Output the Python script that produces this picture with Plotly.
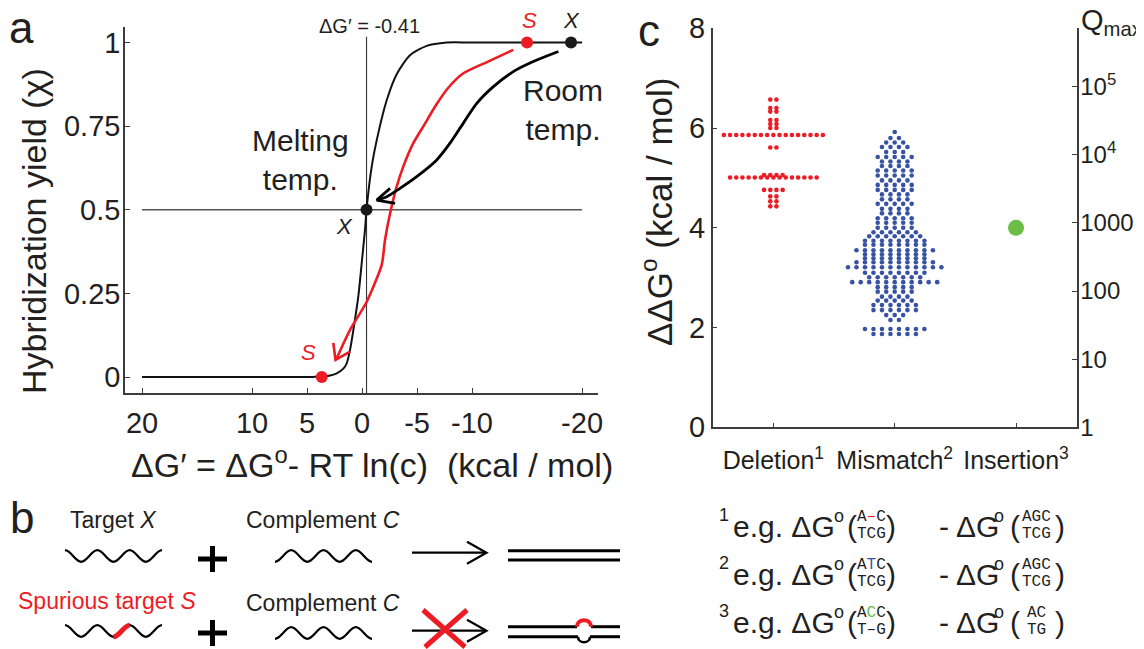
import plotly.graph_objects as go

W, H = 1144, 649          # target picture size
OX, OY = 8, 8             # page body margin of the browser
FW, FH = W - OX, H - OY   # figure size so the page fits the window exactly
FONT = "Liberation Sans, Arial, Helvetica, sans-serif"
MONO = "Liberation Mono, Courier New, monospace"
RED = "#ED1C24"
BLUE = "#3953A4"
GREEN = "#6ABD45"
INK = "#231F20"
AXC = "#3C3C3C"

# ---------------- Panel a data ----------------
xa_tickvals = [20, 10, 5, 0, -5, -10, -20]
xa_ticktext = ["20", "10", "5", "0", "-5", "-10", "-20"]
ya_tickvals = [0, 0.25, 0.5, 0.75, 1]
ya_ticktext = ["0", "0.25", "0.5", "0.75", "1"]

curve_dG = [20, 10, 5, 4.3, 3.66, 3.0, 2.3, 1.7, 1.39, 1.09, 0.79, 0.34, 0.03, -0.27, -0.41,
            -0.88, -1.48, -2.25, -3.15, -4.36, -5.88, -7.7, -10, -20]
curve_chi = [0, 0, 0, 0.0005, 0.001, 0.004, 0.011, 0.025, 0.041, 0.081, 0.14, 0.24, 0.34, 0.44, 0.5,
             0.629, 0.729, 0.828, 0.905, 0.962, 0.99, 1.0, 1.0, 1.0]

dG_melt = -0.41
half_line_dG = [20, -20]
half_line_chi = [0.5, 0.5]
vline_chi = [-0.048, 1.017]

x_dots_dG = [-0.41, -19.0]
x_dots_chi = [0.5, 1.0]
s_dots_dG = [3.66, -15.0]
s_dots_chi = [0.0, 1.0]

red_path_dG = [-13.75, -11.45, -9.21, -7.82, -6.73, -5.64, -4.66, -3.75, -3.15, -2.55,
               -2.09, -1.79, -0.43, 1.09, 2.30]
red_path_chi = [0.978, 0.943, 0.908, 0.864, 0.813, 0.753, 0.699, 0.629, 0.569, 0.489,
                0.410, 0.335, 0.225, 0.141, 0.056]
red_head_dG = [2.61, 2.41, 1.09]
red_head_chi = [0.102, 0.051, 0.076]

blk_path_dG = [-17.85, -15.57, -13.75, -11.94, -10.43, -9.21, -8.0, -6.79, -4.97, -3.45, -2.25, -1.34]
blk_path_chi = [0.973, 0.943, 0.913, 0.868, 0.818, 0.759, 0.699, 0.649, 0.599, 0.564, 0.539, 0.529]
blk_head_dG = [-2.55, -1.34, -3.0]
blk_head_chi = [0.564, 0.529, 0.519]

# ---------------- Panel c data ----------------
cat_pos = [1, 2, 3]
cat_text = ["Deletion<sup>1</sup>", "Mismatch<sup>2</sup>", "Insertion<sup>3</sup>"]
yc_tickvals = [0, 2, 4, 6, 8]
q_tickvals = [1, 10, 100, 1000, 1e4, 1e5]
q_ticktext = ["1", "10", "100", "1000", "10<sup>4</sup>", "10<sup>5</sup>"]

del_levels = [6.57, 6.40, 6.33, 6.16, 6.08, 6.00, 5.86, 5.61, 5.06, 5.01, 4.76, 4.63, 4.53, 4.43]
del_counts = [2, 2, 2, 2, 2, 2, 17, 2, 4, 15, 4, 2, 2, 2]

mis_levels = [5.92, 5.80, 5.71, 5.62, 5.52, 5.42, 5.33, 5.24, 5.15, 5.05, 4.95, 4.86, 4.76, 4.67,
              4.57, 4.48, 4.38, 4.29, 4.19, 4.10, 4.00, 3.91, 3.83, 3.74, 3.66, 3.55, 3.47, 3.39,
              3.31, 3.21, 3.10, 3.01, 2.91, 2.81, 2.72, 2.62, 2.54, 2.45, 2.35, 2.25, 2.15, 1.97, 1.87]
mis_counts = [1, 2, 3, 4, 3, 5, 4, 4, 5, 5, 4, 5, 5, 4,
              4, 5, 4, 4, 5, 5, 5, 6, 7, 8, 8, 10, 8, 8,
              10, 12, 8, 7, 11, 5, 5, 4, 5, 6, 6, 3, 2, 8, 6]

ins_levels = [4.0]
ins_counts = [1]


def swarm(levels, counts, center, step):
    xs, ys = [], []
    for v, n in zip(levels, counts):
        for i in range(n):
            xs.append(center + (i - (n - 1) / 2) * step)
            ys.append(v)
    return xs, ys


def xp(x):
    return (x - OX) / FW


def yp(y):
    return 1 - (y - OY) / FH


fig = go.Figure()

# ---- panel a traces ----
fig.add_trace(go.Scatter(x=half_line_dG, y=half_line_chi, mode="lines",
                         line=dict(color="#555555", width=1.3), xaxis="x", yaxis="y", hoverinfo="skip"))
fig.add_trace(go.Scatter(x=[dG_melt, dG_melt], y=vline_chi, mode="lines",
                         line=dict(color="#333333", width=1.1), xaxis="x", yaxis="y", hoverinfo="skip"))
fig.add_trace(go.Scatter(x=curve_dG, y=curve_chi, mode="lines",
                         line=dict(color="#111111", width=2, shape="spline", smoothing=0.7),
                         xaxis="x", yaxis="y"))
fig.add_trace(go.Scatter(x=red_path_dG, y=red_path_chi, mode="lines",
                         line=dict(color=RED, width=2.6, shape="spline", smoothing=0.6), xaxis="x", yaxis="y"))
fig.add_trace(go.Scatter(x=red_head_dG, y=red_head_chi, mode="lines",
                         line=dict(color=RED, width=2.6), xaxis="x", yaxis="y"))
fig.add_trace(go.Scatter(x=blk_path_dG, y=blk_path_chi, mode="lines",
                         line=dict(color="#000000", width=2.8, shape="spline", smoothing=0.8), xaxis="x", yaxis="y"))
fig.add_trace(go.Scatter(x=blk_head_dG, y=blk_head_chi, mode="lines",
                         line=dict(color="#000000", width=2.8), xaxis="x", yaxis="y"))
fig.add_trace(go.Scatter(x=x_dots_dG, y=x_dots_chi, mode="markers",
                         marker=dict(color="#1A1A1A", size=12), xaxis="x", yaxis="y"))
fig.add_trace(go.Scatter(x=s_dots_dG, y=s_dots_chi, mode="markers",
                         marker=dict(color=RED, size=12), xaxis="x", yaxis="y"))

# ---- panel c traces ----
dx, dy = swarm(del_levels, del_counts, cat_pos[0], 0.051)
fig.add_trace(go.Scatter(x=dx, y=dy, mode="markers", marker=dict(color=RED, size=4.6),
                         xaxis="x2", yaxis="y2"))
mx, my = swarm(mis_levels, mis_counts, cat_pos[1], 0.07)
fig.add_trace(go.Scatter(x=mx, y=my, mode="markers", marker=dict(color=BLUE, size=4.6),
                         xaxis="x2", yaxis="y2"))
ix, iy = swarm(ins_levels, ins_counts, cat_pos[2], 0.051)
fig.add_trace(go.Scatter(x=ix, y=iy, mode="markers", marker=dict(color=GREEN, size=16),
                         xaxis="x2", yaxis="y2"))
fig.add_trace(go.Scatter(x=[], y=[], xaxis="x2", yaxis="y3", mode="markers"))
fig.add_trace(go.Scatter(x=[], y=[], xaxis="x4", yaxis="y4", mode="markers"))


def ann(text, x, y, size, color=INK, xanchor="center", yanchor="middle", family=FONT, angle=0):
    return dict(text=text, x=xp(x), y=yp(y), xref="paper", yref="paper", showarrow=False,
                font=dict(size=size, color=color, family=family), xanchor=xanchor,
                yanchor=yanchor, textangle=angle, borderpad=0)


anns = []
# panel labels
anns.append(ann("a", 22, 28, 44))
anns.append(ann("b", 22, 517, 44))
anns.append(ann("c", 649, 31, 44))
# panel a texts
anns.append(ann("Hybridization yield (\u03c7)", 34, 231, 34, angle=-90))
anns.append(ann("\u0394G\u2032 = \u0394G<sup>o</sup>- RT ln(c)  (kcal / mol)", 372, 462, 34))
anns.append(ann("\u0394G\u2032 = -0.41", 369, 26, 20))
anns.append(ann("Melting<br>temp.", 300, 160, 30))
anns.append(ann("Room<br>temp.", 563, 110, 30))
anns.append(ann("<i>X</i>", 344, 226, 22))
anns.append(ann("<i>S</i>", 529, 20, 22, color=RED))
anns.append(ann("<i>X</i>", 571, 20, 22))
anns.append(ann("<i>S</i>", 308, 352, 22, color=RED))
# panel c texts
anns.append(ann("\u0394\u0394G<sup>o</sup> (kcal / mol)", 657, 212, 35, angle=-90))
anns.append(ann("Q<sub>max</sub>", 1143, 22, 29, xanchor="right"))
# panel b texts
anns.append(ann("Target <i>X</i>", 113, 520, 23))
anns.append(ann("Complement <i>C</i>", 323, 520, 23))
anns.append(ann("Spurious target <i>S</i>", 107, 601, 23, color=RED))
anns.append(ann("Complement <i>C</i>", 323, 603, 23))

# equations
eq_rows = [
    (526, "1", ("A<span style='color:%s'>\u2013</span>C" % RED, "TCG"), ("AGC", "TCG")),
    (574, "2", ("A<span style='color:%s'>T</span>C" % BLUE, "TCG"), ("AGC", "TCG")),
    (622, "3", ("A<span style='color:%s'>C</span>C" % GREEN, "T\u2013G"), ("AC", "TG")),
]
for yc, num, st1, st2 in eq_rows:
    anns.append(ann(num, 718, yc - 11, 18, xanchor="left"))
    anns.append(ann("e.g. \u0394G", 732, yc, 30, xanchor="left"))
    anns.append(ann("o", 833, yc - 10, 18, xanchor="left"))
    anns.append(ann("(", 846, yc, 30, xanchor="left"))
    anns.append(ann(st1[0], 871, yc - 9, 16, family=MONO))
    anns.append(ann(st1[1], 871, yc + 8, 16, family=MONO))
    anns.append(ann(")", 885, yc, 30, xanchor="left"))
    anns.append(ann("-", 938, yc, 30, xanchor="left"))
    anns.append(ann("\u0394G", 955, yc, 30, xanchor="left"))
    anns.append(ann("o", 993, yc - 10, 18, xanchor="left"))
    anns.append(ann("(", 1009, yc, 30, xanchor="left"))
    anns.append(ann(st2[0], 1036, yc - 9, 16, family=MONO))
    anns.append(ann(st2[1], 1036, yc + 8, 16, family=MONO))
    anns.append(ann(")", 1054, yc, 30, xanchor="left"))


# ---------------- panel b shapes (pixel canvas x4/y4) ----------------
def wave(x0, x1, yc, amp, nhalf, first_up=True, k0=0, k1=None):
    h = (x1 - x0) / nhalf
    k1 = nhalf if k1 is None else k1
    y = yc - amp if first_up else yc + amp
    if k0 % 2 == 1:
        y = 2 * yc - y
    p = f"M{x0 + k0 * h},{y}"
    for k in range(k0, k1):
        xs = x0 + k * h
        yn = 2 * yc - y
        p += f" C{xs + 0.36 * h},{y} {xs + 0.64 * h},{yn} {xs + h},{yn}"
        y = yn
    return p


shapes = []


def pshape(path, color="#000000", width=2.2):
    shapes.append(dict(type="path", path=path, xref="x4", yref="y4",
                       line=dict(color=color, width=width)))


def lshape(x0, y0, x1, y1, color="#000000", width=2.2):
    shapes.append(dict(type="line", x0=x0, y0=y0, x1=x1, y1=y1, xref="x4", yref="y4",
                       line=dict(color=color, width=width)))


pshape(wave(65, 162, 556, 5.8, 6, first_up=True))
pshape(wave(275, 372, 556, 5.8, 6, first_up=False))
pshape(wave(65, 162, 631, 5.8, 6, first_up=True))
pshape(wave(65, 162, 631, 5.8, 6, first_up=True, k0=3, k1=4), color=RED, width=5)
pshape(wave(275, 372, 633, 5.8, 6, first_up=False))
for yc in (559, 633):
    lshape(198, yc, 227, yc, width=5)
    lshape(212.5, yc - 13, 212.5, yc + 13, width=5)
for yc in (552.7, 630.7):
    lshape(412, yc, 486, yc, width=2.2)
    pshape(f"M467,{yc - 11} L486.5,{yc} L467,{yc + 11}", width=2.2)
lshape(508, 550.7, 620, 550.7, width=3)
lshape(508, 560, 620, 560, width=3)
lshape(508, 626.7, 577, 626.7, width=3)
lshape(591, 626.7, 620, 626.7, width=3)
pshape("M577,626.7 C577,618 591,618 591,626.7", color=RED, width=4)
lshape(508, 636.7, 578, 636.7, width=3)
lshape(590, 636.7, 620, 636.7, width=3)
pshape("M578,636.7 C578,644 590,644 590,636.7", width=2.5)
lshape(423, 610, 465, 647, color=RED, width=5)
lshape(467, 610, 425, 647, color=RED, width=5)

axis_common = dict(showgrid=False, zeroline=False, showline=True, linecolor=AXC, linewidth=1.5,
                   ticks="inside", tickcolor=AXC, tickwidth=1.3, ticklen=5, automargin=False,
                   tickfont=dict(family=FONT, size=29, color=INK))

fig.update_layout(
    template="none",
    width=FW, height=FH, autosize=False,
    margin=dict(l=0, r=0, t=0, b=0, pad=0, autoexpand=False),
    paper_bgcolor="white", plot_bgcolor="rgba(0,0,0,0)",
    showlegend=False,
    xaxis=dict(domain=[xp(125), xp(598)], range=[21.545, -21.45], anchor="y",
               tickmode="array", tickvals=xa_tickvals, ticktext=xa_ticktext,
               ticklabelstandoff=3, **axis_common),
    yaxis=dict(domain=[yp(393), yp(27)], range=[-0.0478, 1.0463], anchor="x",
               tickmode="array", tickvals=ya_tickvals, ticktext=ya_ticktext,
               ticklabelstandoff=-3, **axis_common),
    xaxis2=dict(domain=[xp(712.7), xp(1076.7)], range=[0.5, 3.5], anchor="y2",
                tickmode="array", tickvals=cat_pos, ticktext=cat_text, ticklabelstandoff=10,
                **{**axis_common, "tickfont": dict(family=FONT, size=25, color=INK)}),
    yaxis2=dict(domain=[yp(427.3), yp(28.3)], range=[0, 8], anchor="x2",
                tickmode="array", tickvals=yc_tickvals, **axis_common),
    yaxis3=dict(overlaying="y2", side="right", anchor="x2", type="log", range=[0, 5.857],
                tickmode="array", tickvals=q_tickvals, ticktext=q_ticktext, ticklabelstandoff=-3,
                **{**axis_common, "tickfont": dict(family=FONT, size=24, color=INK)}),
    xaxis4=dict(domain=[0, 1], range=[OX, W], visible=False, anchor="y4", fixedrange=True,
                automargin=False),
    yaxis4=dict(domain=[0, 1], range=[H, OY], visible=False, anchor="x4", fixedrange=True,
                automargin=False),
    annotations=anns,
    shapes=shapes,
)

fig.write_html("out.html")
